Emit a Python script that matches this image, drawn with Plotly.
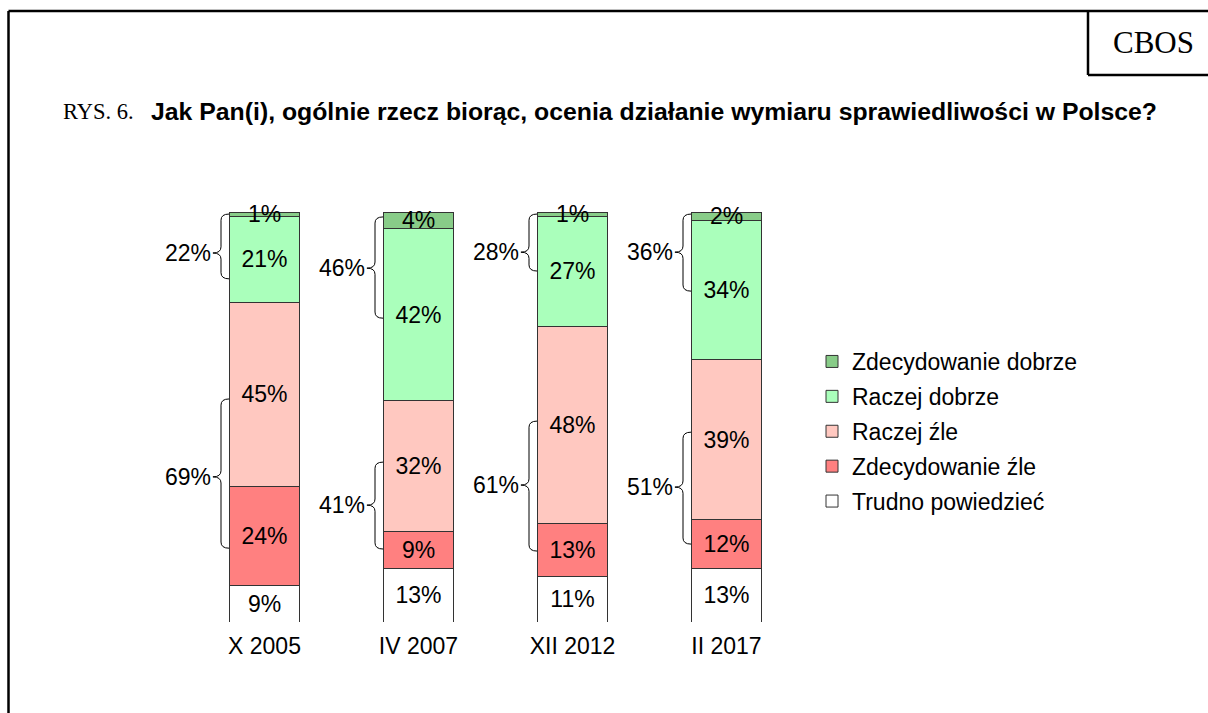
import plotly.graph_objects as go

# ---- data ----
categories = ["X 2005", "IV 2007", "XII 2012", "II 2017"]
series_names = ["Trudno powiedzieć", "Zdecydowanie źle", "Raczej źle", "Raczej dobrze", "Zdecydowanie dobrze"]
trudno = [9, 13, 11, 13]
zdec_zle = [24, 9, 13, 12]
raczej_zle = [45, 32, 48, 39]
raczej_dobrze = [21, 42, 27, 34]
zdec_dobrze = [1, 4, 1, 2]
series_values = [trudno, zdec_zle, raczej_zle, raczej_dobrze, zdec_dobrze]
colors = ["#FFFFFF", "#FF8080", "#FFC8C0", "#AAFFBB", "#88CC88"]

# brace spans (value units) drawn left of each bar: top, tip, bottom
brace_good_top = [99.5, 98.8, 99.5, 99.5]
brace_good_tip = [90.0, 86.3, 90.2, 90.2]
brace_good_bot = [83.7, 74.1, 85.6, 80.7]
brace_bad_top = [54.4, 39.0, 49.0, 46.3]
brace_bad_tip = [35.4, 28.5, 33.4, 32.9]
brace_bad_bot = [18.0, 17.8, 17.3, 19.0]

good_totals = [a + b for a, b in zip(raczej_dobrze, zdec_dobrze)]
bad_totals = [a + b for a, b in zip(raczej_zle, zdec_zle)]

W, H = 1208, 713
BOTTOM = 91
PH = H - BOTTOM
PX_PER_X = 154.0
X0_PX = 264.5
PX_PER_Y = 4.1
BAR_W = 0.45
FONT = "Liberation Sans, Arial"

xs = list(range(len(categories)))

fig = go.Figure()
n = len(series_names)
for k, (name, vals, col) in enumerate(zip(series_names, series_values, colors)):
    fig.add_trace(go.Bar(
        x=xs, y=vals, name=name, width=BAR_W,
        marker=dict(color=col, line=dict(color="#333333", width=1)),
        texttemplate="%{y}%", textposition="inside", insidetextanchor="middle",
        textangle=0, textfont=dict(family=FONT, size=23, color="black"),
        legendgroup=name, legendrank=n - k, hoverinfo="skip",
    ))

def brace_path(xc_end, xtip, ytop, ymid, ybot):
    xm = (xc_end + xtip) / 2
    r = 1.5
    return (f"M {xc_end},{ytop} Q {xm},{ytop} {xm},{ytop - r} "
            f"L {xm},{ymid + r} Q {xm},{ymid} {xtip},{ymid} "
            f"Q {xm},{ymid} {xm},{ymid - r} L {xm},{ybot + r} "
            f"Q {xm},{ybot} {xc_end},{ybot}")

shapes = []
annotations = []
bw = 0.105
for i in xs:
    xe = i - BAR_W / 2 - 0.005
    xt = xe - bw
    for top, tip, bot, tot in ((brace_good_top[i], brace_good_tip[i], brace_good_bot[i], good_totals[i]),
                               (brace_bad_top[i], brace_bad_tip[i], brace_bad_bot[i], bad_totals[i])):
        shapes.append(dict(type="path", xref="x", yref="y", path=brace_path(xe, xt, top, tip, bot),
                           line=dict(color="black", width=1)))
        annotations.append(dict(x=xt, y=tip, xref="x", yref="y", text=f"{tot}%",
                                showarrow=False, xanchor="right", yanchor="middle", xshift=0,
                                font=dict(family=FONT, size=23, color="black")))

def px(xp):
    return xp / W

def py(yp):
    return 1 - yp / PH

# frame lines
shapes += [
    dict(type="line", xref="paper", yref="paper", x0=px(8.5), x1=px(W + 5), y0=py(11), y1=py(11),
         line=dict(color="black", width=2.5)),
    dict(type="line", xref="paper", yref="paper", x0=px(8.5), x1=px(8.5), y0=py(11), y1=py(H + 5),
         line=dict(color="black", width=2.5)),
    dict(type="line", xref="paper", yref="paper", x0=px(1088), x1=px(1088), y0=py(11), y1=py(75),
         line=dict(color="black", width=2.5)),
    dict(type="line", xref="paper", yref="paper", x0=px(1088), x1=px(W + 5), y0=py(75), y1=py(75),
         line=dict(color="black", width=2.5)),
]

annotations += [
    dict(x=px(1153), y=py(43), xref="paper", yref="paper", text="CBOS", showarrow=False,
         xanchor="center", yanchor="middle",
         font=dict(family="Liberation Serif, Times New Roman", size=31, color="black")),
    dict(x=px(61), y=py(112), xref="paper", yref="paper", text="RYS. 6.", showarrow=False,
         xanchor="left", yanchor="middle",
         font=dict(family="Liberation Serif, Times New Roman", size=22.5, color="black")),
    dict(x=px(149), y=py(112), xref="paper", yref="paper",
         text="<b>Jak Pan(i), ogólnie rzecz biorąc, ocenia działanie wymiaru sprawiedliwości w Polsce?</b>",
         showarrow=False, xanchor="left", yanchor="middle",
         font=dict(family=FONT, size=24.8, color="black")),
]

fig.update_layout(
    width=W, height=H,
    margin=dict(l=0, r=0, t=0, b=BOTTOM, pad=0),
    barmode="stack",
    paper_bgcolor="white", plot_bgcolor="white",
    showlegend=True, hovermode=False,
    legend=dict(x=px(812), y=py(340), xanchor="left", yanchor="top",
                traceorder="grouped", tracegroupgap=2,
                font=dict(family=FONT, size=23, color="black"),
                bgcolor="rgba(0,0,0,0)"),
    uniformtext=dict(minsize=23, mode="show"),
    xaxis=dict(range=[-X0_PX / PX_PER_X, (W - X0_PX) / PX_PER_X], tickvals=xs, ticktext=categories,
               showgrid=False, zeroline=False, showline=False, ticks="outside", ticklen=3,
               tickcolor="rgba(0,0,0,0)",
               tickfont=dict(family=FONT, size=23, color="black")),
    yaxis=dict(range=[0, PH / PX_PER_Y], showgrid=False, zeroline=False, showline=False,
               showticklabels=False, ticks=""),
    shapes=shapes, annotations=annotations,
)

fig.write_html("out.html", config={"displayModeBar": False},
               post_script="document.body.style.margin='0px';")
